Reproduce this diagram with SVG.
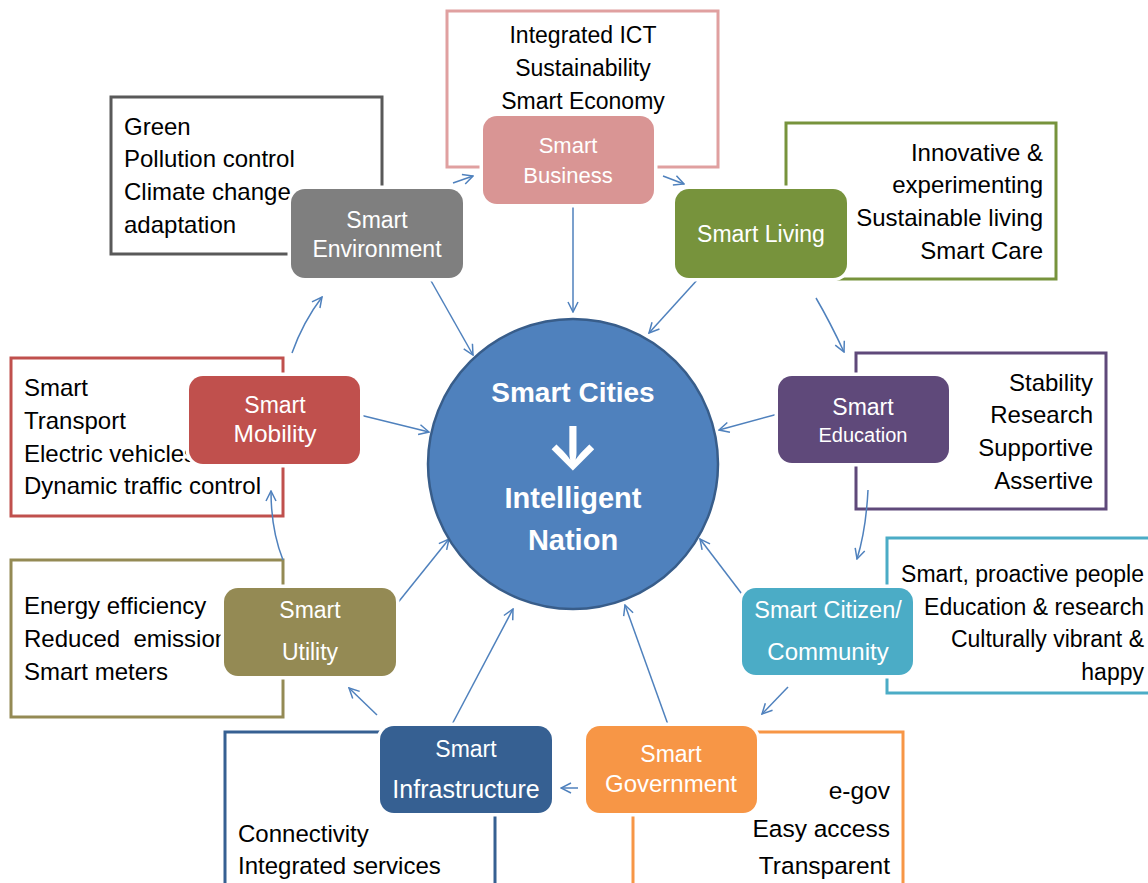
<svg xmlns="http://www.w3.org/2000/svg" width="1148" height="883" viewBox="0 0 1148 883">
<style>
.box{fill:#fff;stroke-width:3}
.node{stroke:#fff;stroke-width:7;paint-order:stroke}
.nt{font-family:"Liberation Sans",Arial,sans-serif;font-size:23px;fill:#fff;text-anchor:middle}
.bt{font-family:"Liberation Sans",Arial,sans-serif;font-size:24px;fill:#000}
.r{text-anchor:end}
.c{text-anchor:middle}
.con{fill:none;stroke:#4F81BD;stroke-width:1.5;marker-end:url(#ah)}
.ct{font-family:"Liberation Sans",Arial,sans-serif;font-weight:bold;fill:#fff;text-anchor:middle}
</style>
<defs>
<marker id="ah" viewBox="0 0 12 12" refX="11" refY="6" markerWidth="12" markerHeight="12" markerUnits="userSpaceOnUse" orient="auto">
<path d="M1,1 L11,6 L1,11" fill="none" stroke="#4F81BD" stroke-width="1.5"/>
</marker>
</defs>
<rect width="1148" height="883" fill="#fff"/>

<!-- description boxes -->
<g id="box-business">
<rect class="box" x="447" y="11" width="271" height="156" stroke="#E0A0A0"/>
<text class="bt c" x="583" y="43" style="font-size:23px">Integrated ICT</text>
<text class="bt c" x="583" y="76" style="font-size:23px">Sustainability</text>
<text class="bt c" x="583" y="109" style="font-size:23px">Smart Economy</text>
</g>
<g id="box-environment">
<rect class="box" x="111" y="97" width="271" height="157" stroke="#595959"/>
<text class="bt" x="124" y="135">Green</text>
<text class="bt" x="124" y="167">Pollution control</text>
<text class="bt" x="124" y="200">Climate change</text>
<text class="bt" x="124" y="233">adaptation</text>
</g>
<g id="box-living">
<rect class="box" x="786" y="123" width="270" height="156" stroke="#77933C"/>
<text class="bt r" x="1043" y="161">Innovative &amp;</text>
<text class="bt r" x="1043" y="193">experimenting</text>
<text class="bt r" x="1043" y="226">Sustainable living</text>
<text class="bt r" x="1043" y="259">Smart Care</text>
</g>
<g id="box-mobility">
<rect class="box" x="11" y="358" width="272" height="158" stroke="#C0504D"/>
<text class="bt" x="24" y="396">Smart</text>
<text class="bt" x="24" y="429">Transport</text>
<text class="bt" x="24" y="462">Electric vehicles</text>
<text class="bt" x="24" y="494">Dynamic traffic control</text>
</g>
<g id="box-education">
<rect class="box" x="856" y="353" width="250" height="156" stroke="#5F497A"/>
<text class="bt r" x="1093" y="391">Stability</text>
<text class="bt r" x="1093" y="423">Research</text>
<text class="bt r" x="1093" y="456">Supportive</text>
<text class="bt r" x="1093" y="489">Assertive</text>
</g>
<g id="box-citizen">
<rect class="box" x="887" y="538" width="280" height="155" stroke="#4BACC6"/>
<text class="bt r" x="1144" y="582" style="font-size:23px">Smart, proactive people</text>
<text class="bt r" x="1144" y="615" style="font-size:23px">Education &amp; research</text>
<text class="bt r" x="1144" y="647" style="font-size:23px">Culturally vibrant &amp;</text>
<text class="bt r" x="1144" y="680" style="font-size:23px">happy</text>
</g>
<g id="box-utility">
<rect class="box" x="11" y="560" width="272" height="157" stroke="#948A54"/>
<text class="bt" x="24" y="614">Energy efficiency</text>
<text class="bt" x="24" y="647" xml:space="preserve">Reduced  emissions</text>
<text class="bt" x="24" y="680">Smart meters</text>
</g>
<g id="box-infrastructure">
<rect class="box" x="225" y="732" width="270" height="170" stroke="#366092"/>
<text class="bt" x="238" y="842">Connectivity</text>
<text class="bt" x="238" y="874">Integrated services</text>
</g>
<g id="box-government">
<rect class="box" x="633" y="732" width="270" height="170" stroke="#F79646"/>
<text class="bt r" x="890" y="799" style="font-size:24.5px">e-gov</text>
<text class="bt r" x="890" y="837" style="font-size:24.5px">Easy access</text>
<text class="bt r" x="890" y="874" style="font-size:24.5px">Transparent</text>
</g>

<!-- connectors -->
<g id="connectors">
<path class="con" d="M453,183 L473,176"/>
<path class="con" d="M663,176 L684,184"/>
<path class="con" d="M573,204 L573,312"/>
<path class="con" d="M698,279 L649,333"/>
<path class="con" d="M816,298 Q830,322 844,352"/>
<path class="con" d="M778,414 L719,430"/>
<path class="con" d="M868,490 Q866,530 857,559"/>
<path class="con" d="M748,602 L700,539"/>
<path class="con" d="M788,687 L762,714"/>
<path class="con" d="M671,733 L625,605"/>
<path class="con" d="M578,788 L561,788"/>
<path class="con" d="M448,732 L513,609"/>
<path class="con" d="M377,715 L349,688"/>
<path class="con" d="M396,605 L449,539"/>
<path class="con" d="M283,560 Q271,530 271,491"/>
<path class="con" d="M360,415 L429,432"/>
<path class="con" d="M292,353 Q303,322 322,297"/>
<path class="con" d="M430,279 L473,355"/>
</g>

<!-- center -->
<g id="center">
<circle cx="573" cy="464" r="145" fill="#4F81BD" stroke="#385D8A" stroke-width="2.5"/>
<text class="ct" x="573" y="402" style="font-size:28px">Smart Cities</text>
<text class="ct" x="573" y="470" style="font-size:60px;font-family:Inter,'DejaVu Sans',sans-serif">↓</text>
<text class="ct" x="573" y="508" style="font-size:29px">Intelligent</text>
<text class="ct" x="573" y="550" style="font-size:29px">Nation</text>
</g>

<!-- nodes -->
<g id="node-business">
<rect class="node" x="483" y="116" width="171" height="88" rx="14" fill="#D99594"/>
<text class="nt" x="568" y="153" style="font-size:22px">Smart</text>
<text class="nt" x="568" y="183" style="font-size:22px">Business</text>
</g>
<g id="node-environment">
<rect class="node" x="291" y="189" width="172" height="89" rx="14" fill="#7F7F7F"/>
<text class="nt" x="377" y="228">Smart</text>
<text class="nt" x="377" y="257">Environment</text>
</g>
<g id="node-living">
<rect class="node" x="675" y="189" width="172" height="89" rx="14" fill="#77933C"/>
<text class="nt" x="761" y="242">Smart Living</text>
</g>
<g id="node-mobility">
<rect class="node" x="189" y="376" width="171" height="88" rx="14" fill="#C0504D"/>
<text class="nt" x="275" y="413">Smart</text>
<text class="nt" x="275" y="442" style="font-size:24.5px">Mobility</text>
</g>
<g id="node-education">
<rect class="node" x="778" y="376" width="171" height="87" rx="14" fill="#5F497A"/>
<text class="nt" x="863" y="415">Smart</text>
<text class="nt" x="863" y="442" style="font-size:20px">Education</text>
</g>
<g id="node-citizen">
<rect class="node" x="742" y="588" width="171" height="87" rx="14" fill="#4BACC6"/>
<text class="nt" x="828" y="618" style="font-size:23.5px">Smart Citizen/</text>
<text class="nt" x="828" y="660" style="font-size:24px">Community</text>
</g>
<g id="node-utility">
<rect class="node" x="224" y="588" width="172" height="88" rx="14" fill="#948A54"/>
<text class="nt" x="310" y="618">Smart</text>
<text class="nt" x="310" y="660">Utility</text>
</g>
<g id="node-infrastructure">
<rect class="node" x="380" y="726" width="172" height="87" rx="14" fill="#366092"/>
<text class="nt" x="466" y="757">Smart</text>
<text class="nt" x="466" y="798" style="font-size:25px">Infrastructure</text>
</g>
<g id="node-government">
<rect class="node" x="586" y="726" width="171" height="87" rx="14" fill="#F79646"/>
<text class="nt" x="671" y="762">Smart</text>
<text class="nt" x="671" y="792" style="font-size:24px">Government</text>
</g>
</svg>
